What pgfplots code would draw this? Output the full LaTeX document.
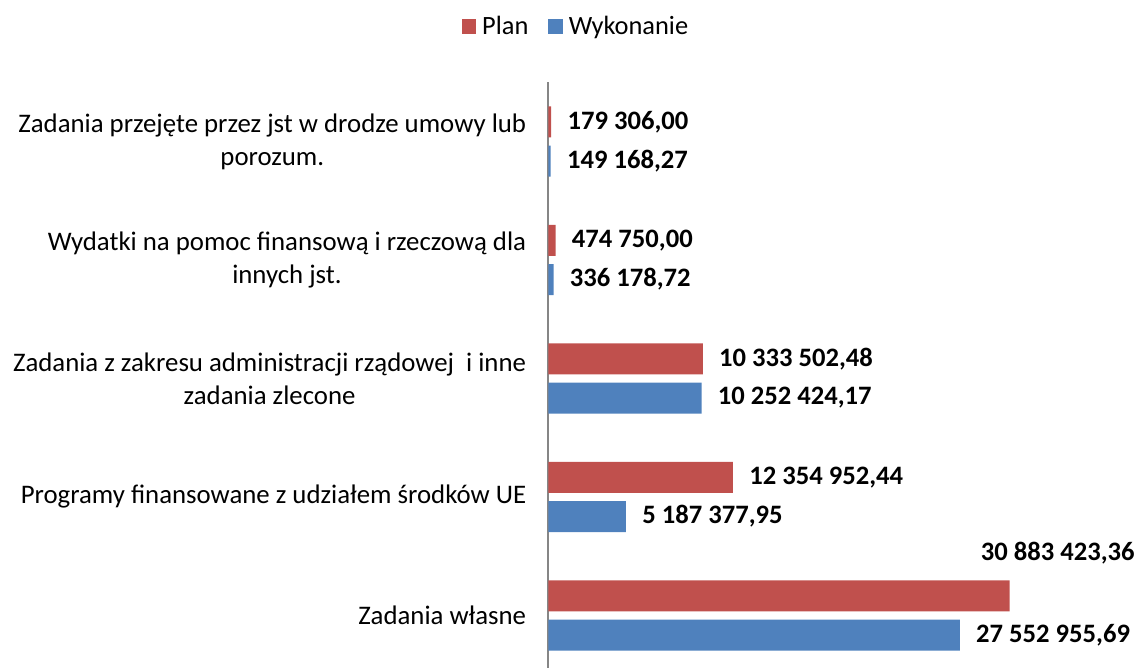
\documentclass[border=0pt]{standalone}
\usepackage{fontspec}
\setmainfont{Carlito}
\usepackage{pgfplots}
\pgfplotsset{compat=1.18}
\definecolor{planred}{HTML}{C0504D}
\definecolor{wykblue}{HTML}{4F81BD}
\definecolor{axisgray}{HTML}{868686}
\pgfplotsset{sqlegend/.style={legend image code/.code={\fill[##1] (0pt,-3.6pt) rectangle (7.2pt,3.6pt);}}}
\begin{document}
\begin{tikzpicture}
\useasboundingbox (0,0) rectangle (570pt,334pt);
\begin{axis}[
  at={(274.25pt,-3.375pt)}, anchor=south west,
  scale only axis, width=283.65pt, height=296.25pt,
  xbar, xmin=0, xmax=38000000, ymin=-0.5, ymax=4.5,
  axis x line=none, axis y line*=left,
  y axis line style={draw=axisgray, line width=1pt},
  ytick={0,1,2,3,4},
  yticklabels={
    Zadania własne,
    Programy finansowane z udziałem środków UE,
    {Zadania z zakresu administracji rządowej~ i inne\\zadania zlecone},
    {Wydatki na pomoc finansową i rzeczową dla\\innych jst.},
    {Zadania przejęte przez jst w drodze umowy lub\\porozum.}},
  major tick length=0pt,
  yticklabel style={align=center, font=\fontsize{13.4}{16.5}\selectfont, inner sep=0pt, xshift=-11pt},
  bar width=0.262,
  point meta=explicit symbolic,
  nodes near coords,
  every node near coord/.append style={font=\fontsize{13.3}{15}\selectfont\bfseries, black, inner sep=0pt, xshift=8pt, anchor=west},
  clip=false,
  legend columns=2,
  legend style={at={(0.0502,1.094)}, anchor=center, draw=none,
    font=\fontsize{13.2}{15}\selectfont,
    /tikz/every odd column/.append style={column sep=1pt},
    /tikz/every even column/.append style={column sep=8pt}},
]
% Plan
\addplot[fill=planred, draw=none, bar shift=0.165, sqlegend,
  coordinate style/.condition={\coordindex==0}{xshift=-22.5pt, yshift=21.5pt}]
  coordinates {
  (30883423.36,0) [30 883 423,36]
  (12354952.44,1) [12 354 952,44]
  (10333502.48,2) [10 333 502,48]
  (474750.00,3)   [474 750,00]
  (179306.00,4)   [179 306,00]
};
% Wykonanie
\addplot[fill=wykblue, draw=none, bar shift=-0.165, sqlegend] coordinates {
  (27552955.69,0) [27 552 955,69]
  (5187377.95,1)  [5 187 377,95]
  (10252424.17,2) [10 252 424,17]
  (336178.72,3)   [336 178,72]
  (149168.27,4)   [149 168,27]
};
\legend{Plan,Wykonanie}
\end{axis}
\end{tikzpicture}
\end{document}
